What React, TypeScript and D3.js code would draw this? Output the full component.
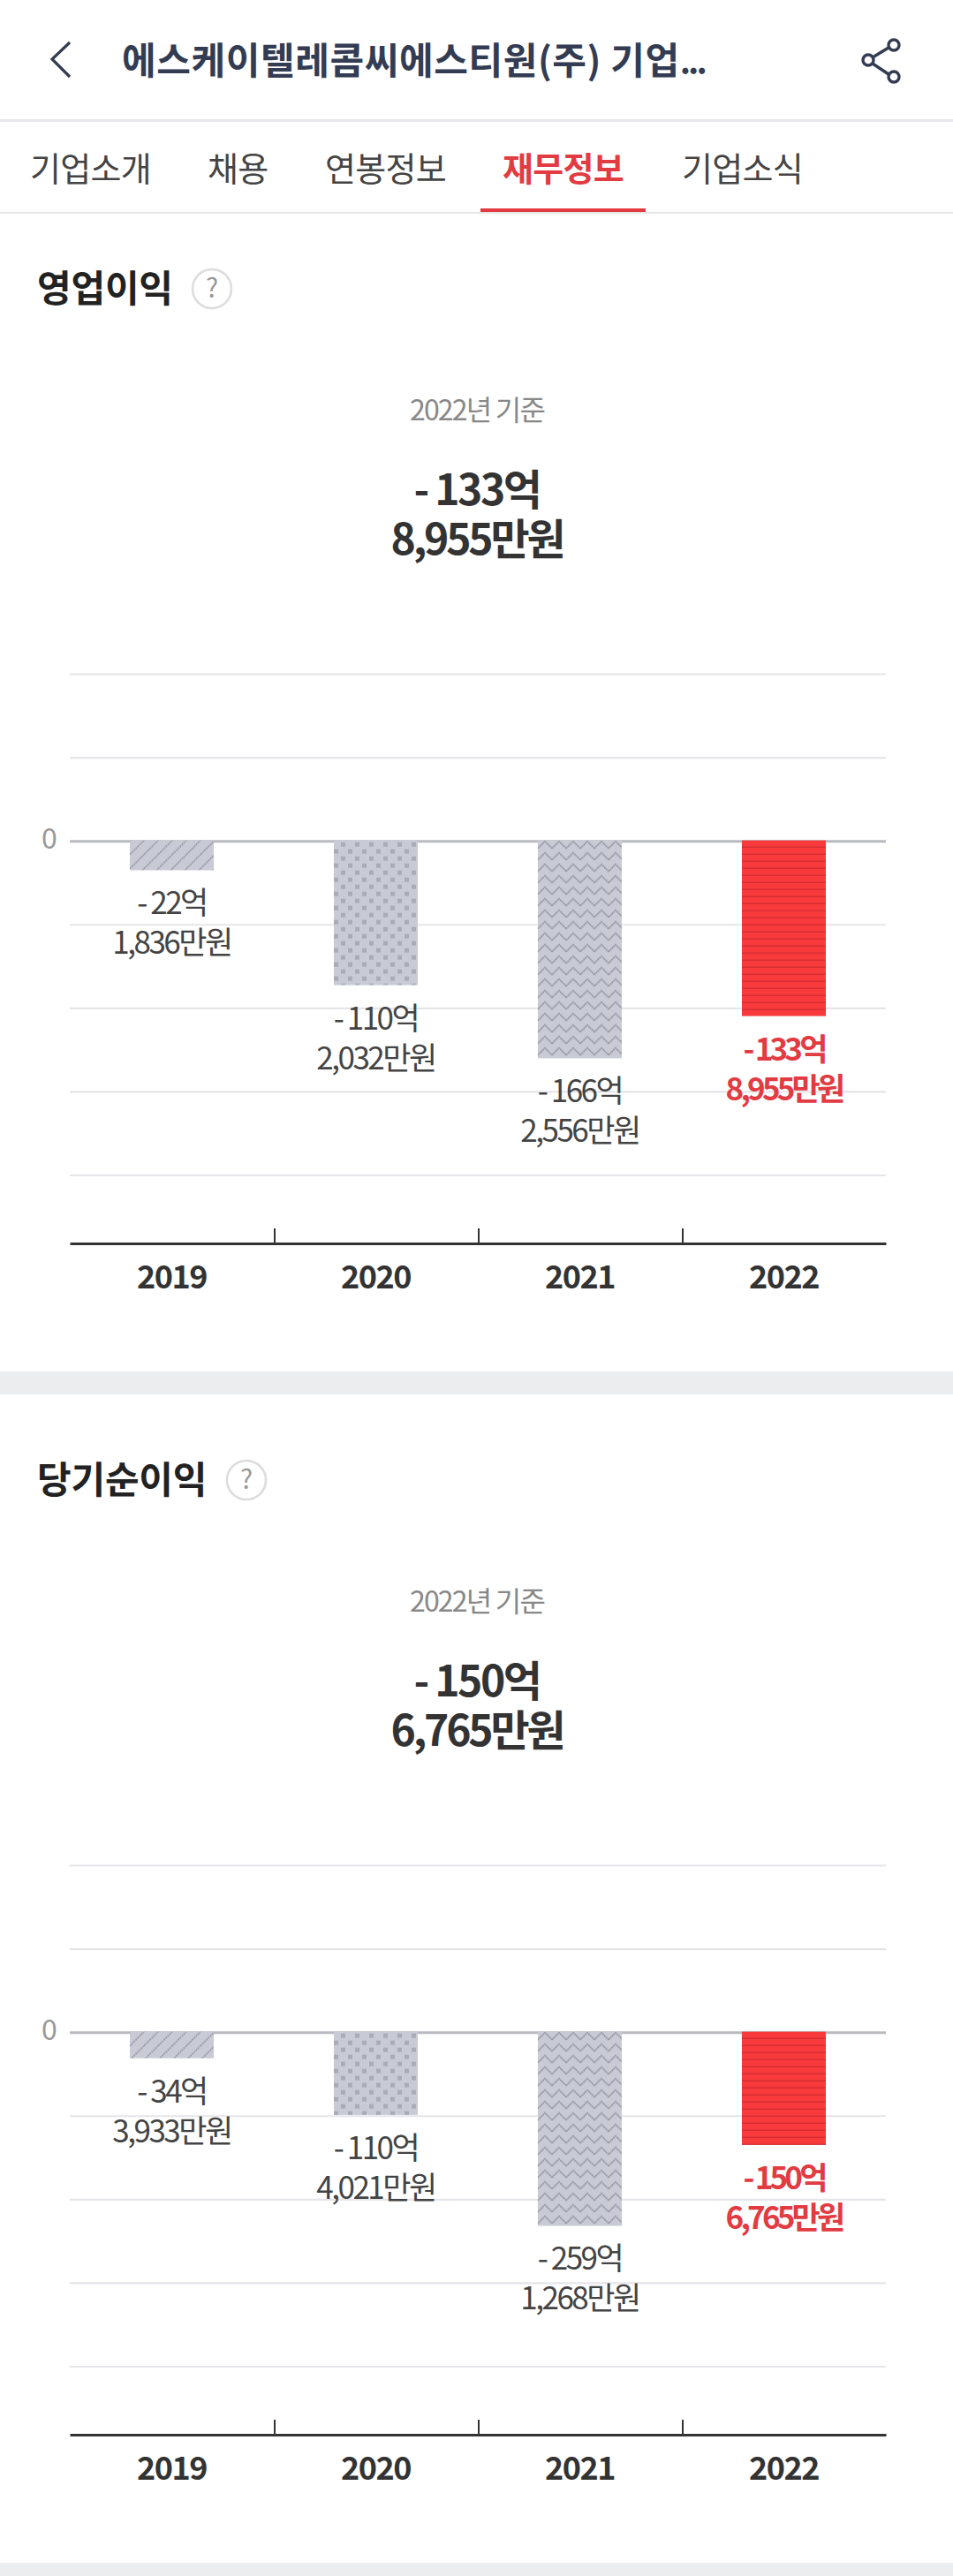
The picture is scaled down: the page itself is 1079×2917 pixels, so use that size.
import React, { useEffect, useRef } from 'react';
import * as d3 from 'd3';

const WIDTH = 1079;
const HEIGHT = 2917;
const FONT = '"Noto Sans CJK KR", "Noto Sans", sans-serif';

const years = ['2019', '2020', '2021', '2022'];
const tabs = ['기업소개', '채용', '연봉정보', '재무정보', '기업소식'];
const tabLefts = [34, 235, 368, 569, 772];

// values in 억원
const opValues = [-22.1836, -110.2032, -166.2556, -133.8955];
const opEok = ['- 22억', '- 110억', '- 166억', '- 133억'];
const opMan = ['1,836만원', '2,032만원', '2,556만원', '8,955만원'];
const opGrid = [128, 64, 0, -64, -128, -192, -256];

const netValues = [-34.3933, -110.4021, -259.1268, -150.6765];
const netEok = ['- 34억', '- 110억', '- 259억', '- 150억'];
const netMan = ['3,933만원', '4,021만원', '1,268만원', '6,765만원'];
const netGrid = [224, 112, 0, -112, -224, -336, -448];

const GRAY = '#c8cbd6';
const MARK = '#8f919e';
const RED = '#f83a3c';
const RED_TEXT = '#e23b42';

type Sel = d3.Selection<any, any, any, any>;

interface SectionConfig {
  id: string;
  offset: number;
  title: string;
  helpX: number;
  headEok: string;
  headMan: string;
  values: number[];
  eok: string[];
  man: string[];
  grid: number[];
}

const sections: SectionConfig[] = [
  { id: 'op', offset: 0, title: '영업이익', helpX: 240, headEok: '- 133억', headMan: '8,955만원', values: opValues, eok: opEok, man: opMan, grid: opGrid },
  { id: 'net', offset: 1349, title: '당기순이익', helpX: 279, headEok: '- 150억', headMan: '6,765만원', values: netValues, eok: netEok, man: netMan, grid: netGrid },
];

const addText = (g: Sel, x: number, y: number, str: string, size: number, weight: number, fill: string, anchor = 'middle', spacing = 0) =>
  g.append('text')
    .attr('x', x)
    .attr('y', y)
    .attr('text-anchor', anchor)
    .attr('font-size', size)
    .attr('font-weight', weight)
    .attr('letter-spacing', spacing)
    .attr('fill', fill)
    .text(str);

// one pattern per bar so the texture starts at the bar's own corner
const addPattern = (defs: Sel, id: string, kind: number, x: number, y: number) => {
  const sizes = [[16, 16], [16, 16], [16, 13], [16, 8]];
  const p = defs.append('pattern')
    .attr('id', id)
    .attr('patternUnits', 'userSpaceOnUse')
    .attr('width', sizes[kind][0])
    .attr('height', sizes[kind][1])
    .attr('patternTransform', `translate(${x},${y})`);
  p.append('rect')
    .attr('width', sizes[kind][0])
    .attr('height', sizes[kind][1])
    .attr('fill', kind === 3 ? RED : GRAY);
  if (kind === 0) {
    p.append('path')
      .attr('d', 'M-2 18L18 -2M-2 2L2 -2M14 18L18 14')
      .attr('stroke', MARK)
      .attr('stroke-width', 1.6)
      .attr('stroke-dasharray', '2 1')
      .attr('fill', 'none');
  } else if (kind === 1) {
    p.append('rect').attr('x', 8).attr('y', 2).attr('width', 5).attr('height', 5).attr('fill', '#a9abb7');
    p.append('rect').attr('x', 0).attr('y', 10).attr('width', 5).attr('height', 5).attr('fill', '#a9abb7');
  } else if (kind === 2) {
    p.append('path')
      .attr('d', 'M0 9L8 1L16 9')
      .attr('stroke', MARK)
      .attr('stroke-width', 1.6)
      .attr('stroke-dasharray', '2 0.6')
      .attr('fill', 'none');
  } else {
    p.append('rect').attr('x', 0).attr('y', 7).attr('width', 16).attr('height', 1.4).attr('fill', '#c4282d');
  }
};

const drawSection = (svg: Sel, defs: Sel, cfg: SectionConfig) => {
  const g = svg.append('g').attr('transform', `translate(0,${cfg.offset})`);

  addText(g, 42, 342, cfg.title, 42, 700, '#222222', 'start', -0.2);
  g.append('circle')
    .attr('cx', cfg.helpX)
    .attr('cy', 327)
    .attr('r', 22)
    .attr('fill', '#fff')
    .attr('stroke', '#dcdcdc')
    .attr('stroke-width', 2.5);
  addText(g, cfg.helpX, 337, '?', 30, 400, '#9a9a9a');

  addText(g, 540, 476, '2022년 기준', 32, 400, '#888888', 'middle', -1.8);
  addText(g, 540, 572, cfg.headEok, 48, 700, '#333333', 'middle', -2.5);
  addText(g, 540, 628, cfg.headMan, 48, 700, '#333333', 'middle', -3.2);

  const x = d3.scaleBand<string>().domain(years).range([79, 1003]);
  const y = d3.scaleLinear()
    .domain([cfg.grid[0], cfg.grid[cfg.grid.length - 1]])
    .range([763.5, 1331]);
  const barWidth = 95;

  cfg.grid.forEach(v => {
    if (v === 0) return;
    g.append('line')
      .attr('x1', 79)
      .attr('x2', 1003)
      .attr('y1', y(v))
      .attr('y2', y(v))
      .attr('stroke', '#e6e6ea')
      .attr('stroke-width', 2.2);
  });
  g.append('line')
    .attr('x1', 79)
    .attr('x2', 1003)
    .attr('y1', y(0))
    .attr('y2', y(0))
    .attr('stroke', '#b9babf')
    .attr('stroke-width', 3);
  addText(g, 56, y(0) + 8, '0', 32, 400, '#999999');

  years.forEach((yr, i) => {
    const bx = (x(yr) as number) + (x.bandwidth() - barWidth) / 2;
    const top = y(0) - 1;
    const id = `${cfg.id}-${yr}`;
    addPattern(defs, id, i, bx, top);
    g.append('rect')
      .attr('x', bx)
      .attr('y', top)
      .attr('width', barWidth)
      .attr('height', y(cfg.values[i]) - top)
      .attr('fill', `url(#${id})`);

    const cx = bx + barWidth / 2;
    const base = y(cfg.values[i]) + 50;
    const isLast = i === years.length - 1;
    const fill = isLast ? RED_TEXT : '#444444';
    const weight = isLast ? 700 : 400;
    const spacing = isLast ? -3.8 : -2.5;
    addText(g, cx, base, cfg.eok[i], 35, weight, fill, 'middle', spacing);
    addText(g, cx, base + 45, cfg.man[i], 35, weight, fill, 'middle', spacing);
  });

  // x axis: years under the bands, ticks on the band edges
  const axis = g.append('g')
    .attr('transform', 'translate(0,1408)')
    .call(d3.axisBottom(x).tickSize(0).tickPadding(0))
    .attr('font-family', FONT);
  axis.select('.domain')
    .attr('stroke', '#333333')
    .attr('stroke-width', 3);
  axis.selectAll('text')
    .attr('y', 51)
    .attr('dy', 0)
    .attr('font-size', 36)
    .attr('font-weight', 700)
    .attr('letter-spacing', -1.5)
    .attr('fill', '#333333');
  years.slice(1).forEach(yr => {
    axis.append('line')
      .attr('x1', (x(yr) as number) + 1)
      .attr('x2', (x(yr) as number) + 1)
      .attr('y1', -17)
      .attr('y2', 0)
      .attr('stroke', '#333333')
      .attr('stroke-width', 2);
  });

  g.append('rect')
    .attr('x', 0)
    .attr('y', 1553)
    .attr('width', WIDTH)
    .attr('height', 26)
    .attr('fill', '#ecedef');
};

const App: React.FC = () => {
  const svgRef = useRef<SVGSVGElement>(null);

  useEffect(() => {
    if (!svgRef.current) return;
    const svg = d3.select(svgRef.current);
    svg.selectAll('*').remove();
    svg.attr('font-family', FONT);

    svg.append('rect').attr('width', WIDTH).attr('height', HEIGHT).attr('fill', '#fff');
    const defs = svg.append('defs');

    // header
    const ink = '#333c52';
    svg.append('path')
      .attr('d', 'M79 48L59 67L79 87')
      .attr('fill', 'none')
      .attr('stroke', ink)
      .attr('stroke-width', 3.2);
    const title = addText(svg, 138, 84, '에스케이텔레콤씨에스티원(주) 기업', 42, 700, ink, 'start', 0.6);
    title.append('tspan').attr('letter-spacing', -3).attr('font-size', 38).text('...');

    const share = svg.append('g').attr('fill', 'none').attr('stroke', ink).attr('stroke-width', 3.4);
    share.append('path').attr('d', 'M1006 54L988 65M988 72L1006 84');
    share.append('circle').attr('cx', 1012).attr('cy', 51).attr('r', 6);
    share.append('circle').attr('cx', 983).attr('cy', 68).attr('r', 6);
    share.append('circle').attr('cx', 1012).attr('cy', 87).attr('r', 6);

    svg.append('rect').attr('x', 0).attr('y', 135).attr('width', WIDTH).attr('height', 3).attr('fill', '#e6e7ea');

    // tabs
    tabs.forEach((t, i) => {
      const active = i === 3;
      addText(svg, tabLefts[i], 205, t, 38, active ? 700 : 400, active ? RED_TEXT : '#444444', 'start', -0.7);
    });
    svg.append('rect').attr('x', 0).attr('y', 240).attr('width', WIDTH).attr('height', 2).attr('fill', '#e6e6e6');
    svg.append('rect').attr('x', 544).attr('y', 236).attr('width', 187).attr('height', 4).attr('fill', RED_TEXT);

    sections.forEach(cfg => drawSection(svg, defs, cfg));
  }, []);

  return (
    <svg
      ref={svgRef}
      width={WIDTH}
      height={HEIGHT}
      style={{ position: 'absolute', left: 0, top: 0, display: 'block' }}
    />
  );
};

export default App;
